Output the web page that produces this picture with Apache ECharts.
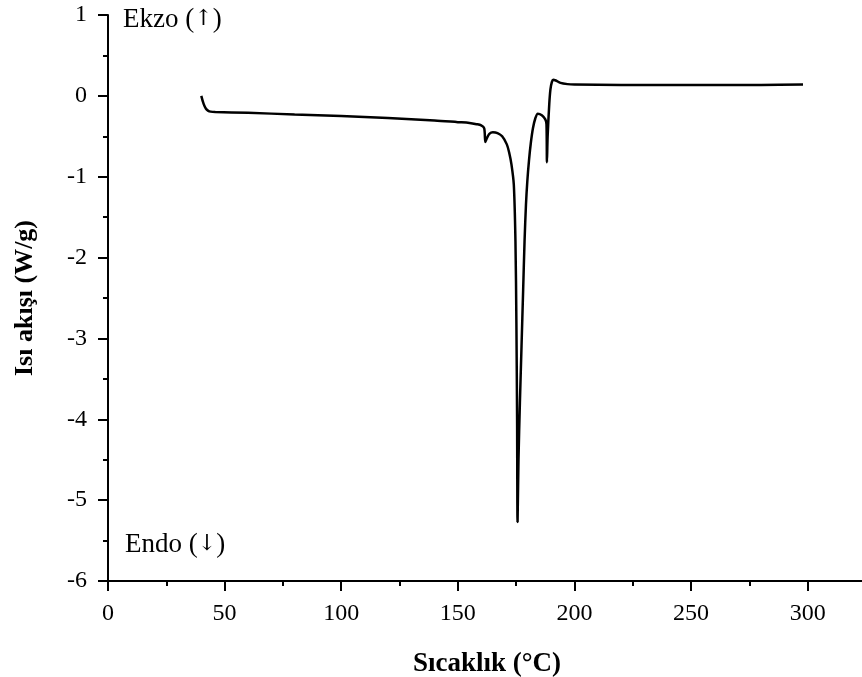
<!DOCTYPE html>
<html>
<head>
<meta charset="utf-8">
<script src="https://cdn.jsdelivr.net/npm/echarts@6/dist/echarts.min.js"></script>
<style>html,body{margin:0;padding:0;background:#fff;}#c{width:862px;height:677px;}</style>
</head>
<body>
<div id="c"></div>
<script>
// Temperature (°C)
const temperature = [40, 41, 42, 43, 44, 46, 60, 80, 100, 120, 140, 150, 155, 158, 160, 161.3, 161.8, 162.5, 163.5, 165, 167, 169, 171, 172, 173, 174, 174.7, 175.1, 175.4, 175.6, 176.0, 176.6, 177.3, 178.0, 178.6, 179.2, 179.8, 180.5, 181.3, 182.2, 183.2, 184.3, 186, 187.5, 188.0, 188.2, 188.5, 189.2, 189.7, 190.3, 190.9, 192, 194, 197, 200, 220, 250, 280, 298];
// Heat flow (W/g)
const heatFlow = [0.00, -0.10, -0.16, -0.185, -0.195, -0.20, -0.21, -0.23, -0.25, -0.275, -0.305, -0.325, -0.335, -0.35, -0.365, -0.40, -0.57, -0.52, -0.47, -0.45, -0.46, -0.50, -0.60, -0.70, -0.85, -1.10, -1.80, -2.80, -4.00, -5.27, -4.50, -3.80, -3.10, -2.40, -1.80, -1.35, -1.05, -0.80, -0.58, -0.40, -0.28, -0.22, -0.24, -0.29, -0.35, -0.82, -0.50, -0.10, 0.08, 0.17, 0.20, 0.19, 0.16, 0.145, 0.14, 0.135, 0.135, 0.135, 0.14];
const xTicks = [0, 50, 100, 150, 200, 250, 300];
const yTicks = [1, 0, -1, -2, -3, -4, -5, -6];
const exoWord = 'Ekzo';
const endoWord = 'Endo';
const upArrow = '↑';
const downArrow = '↓';
const xName = 'Sıcaklık (°C)';
const yName = 'Isı akışı (W/g)';

const points = temperature.map((t, i) => [t, heatFlow[i]]);
const font = 'Liberation Serif, Times New Roman, serif';

function noteText(word, arrow) {
  return {
    text: '{a|' + word + ' (}{b|' + arrow + '}{a|)}',
    rich: {
      a: {fontFamily: font, fontSize: 27, fill: '#000', color: '#000'},
      b: {fontFamily: 'DejaVu Serif', fontSize: 22, fill: '#000', color: '#000'}
    },
    fill: '#000'
  };
}

const chart = echarts.init(document.getElementById('c'), null, {renderer: 'canvas'});
chart.setOption({
  animation: false,
  backgroundColor: '#fff',
  grid: {left: 108, right: -4, top: 15, bottom: 96, containLabel: false, outerBoundsMode: 'none'},
  xAxis: {
    type: 'value', min: 0, max: 325, interval: 50,
    name: xName, nameLocation: 'middle', nameGap: 70,
    nameTextStyle: {fontFamily: font, fontWeight: 'bold', fontSize: 27, color: '#000'},
    axisLine: {show: true, onZero: false, lineStyle: {color: '#000', width: 2}},
    axisTick: {show: true, inside: false, length: 10, lineStyle: {color: '#000', width: 2}},
    minorTick: {show: true, splitNumber: 2, length: 5, lineStyle: {color: '#000', width: 2}},
    axisLabel: {fontFamily: font, fontSize: 24, color: '#000', margin: 21, showMaxLabel: false,
      formatter: v => xTicks.includes(v) ? String(v) : ''},
    splitLine: {show: false}
  },
  yAxis: {
    type: 'value', min: -6, max: 1, interval: 1,
    name: yName, nameLocation: 'middle', nameGap: 70,
    nameTextStyle: {fontFamily: font, fontWeight: 'bold', fontSize: 26, color: '#000'},
    axisLine: {show: true, onZero: false, lineStyle: {color: '#000', width: 2}},
    axisTick: {show: true, inside: false, length: 10, lineStyle: {color: '#000', width: 2}},
    minorTick: {show: true, splitNumber: 2, length: 5, lineStyle: {color: '#000', width: 2}},
    axisLabel: {fontFamily: font, fontSize: 24, color: '#000', margin: 21,
      formatter: v => yTicks.includes(v) ? String(v) : ''},
    splitLine: {show: false}
  },
  graphic: [
    {type: 'text', left: 123, top: 6, style: noteText(exoWord, upArrow)},
    {type: 'text', left: 125, top: 531, style: noteText(endoWord, downArrow)}
  ],
  series: [{
    type: 'line', data: points, showSymbol: false, smooth: 0.3,
    lineStyle: {color: '#000', width: 2.5}
  }]
});
</script>
</body>
</html>
